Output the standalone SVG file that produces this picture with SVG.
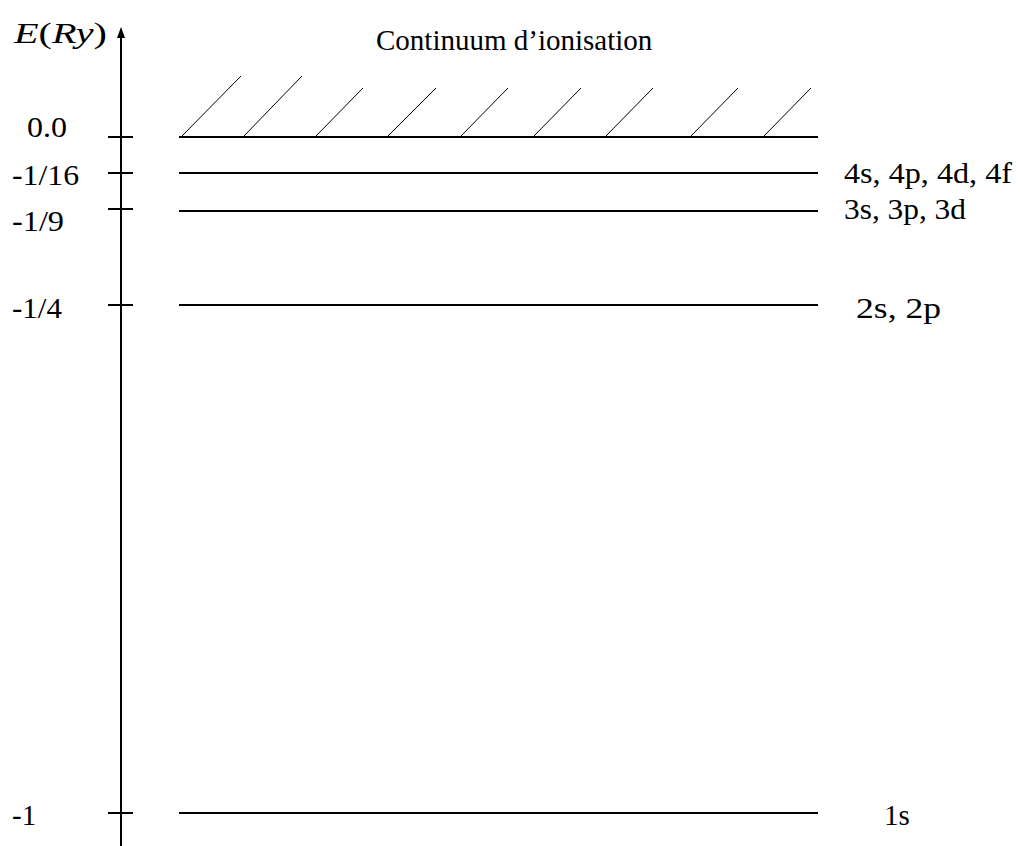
<svg xmlns="http://www.w3.org/2000/svg" width="1020" height="846" viewBox="0 0 1020 846">
<defs>
<style>
.lvl{stroke:#000;stroke-width:2;fill:none}
.tick{stroke:#000;stroke-width:2;fill:none}
.hatch{stroke:#000;stroke-width:1;fill:none}
</style>
</defs>
<rect width="1020" height="846" fill="#fff"/>
<g id="axis">
<line x1="121" y1="36" x2="121" y2="846" stroke="#000" stroke-width="2"/>
<polygon points="121,27 117,38 125,38" fill="#000"/>
<text x="14" y="43" font-family="Liberation Serif" font-size="30" textLength="93" lengthAdjust="spacingAndGlyphs"><tspan font-style="italic">E</tspan>(<tspan font-style="italic">Ry</tspan>)</text>
</g>
<g id="ticks">
<line class="tick" x1="108" y1="137" x2="133" y2="137"/>
<line class="tick" x1="108" y1="173" x2="133" y2="173"/>
<line class="tick" x1="108" y1="209" x2="133" y2="209"/>
<line class="tick" x1="108" y1="305" x2="133" y2="305"/>
<line class="tick" x1="108" y1="813" x2="133" y2="813"/>
</g>
<g id="axis-labels">
<text x="27" y="137" font-family="Liberation Serif" font-size="29" textLength="40" lengthAdjust="spacingAndGlyphs">0.0</text>
<text x="12" y="185" font-family="Liberation Serif" font-size="29" textLength="67" lengthAdjust="spacingAndGlyphs">-1/16</text>
<text x="12" y="231" font-family="Liberation Serif" font-size="29" textLength="52" lengthAdjust="spacingAndGlyphs">-1/9</text>
<text x="12" y="318" font-family="Liberation Serif" font-size="29" textLength="50" lengthAdjust="spacingAndGlyphs">-1/4</text>
<text x="12" y="825" font-family="Liberation Serif" font-size="29">-1</text>
</g>
<g id="continuum">
<line class="lvl" x1="179" y1="137" x2="818" y2="137"/>
<path class="hatch" d="M181,137L241,76M243,137L302,76M315,137L363,88M387,137L436,88M460,137L508,88M533,137L581,88M605,137L653,88M690,137L738,88M763,137L811,88"/>
<text x="376" y="50" font-family="Liberation Serif" font-size="29">Continuum d’ionisation</text>
</g>
<g id="n4">
<line class="lvl" x1="179" y1="173" x2="818" y2="173"/>
<text x="844" y="183" font-family="Liberation Serif" font-size="29" textLength="168" lengthAdjust="spacingAndGlyphs">4s, 4p, 4d, 4f</text>
</g>
<g id="n3">
<line class="lvl" x1="179" y1="211" x2="818" y2="211"/>
<text x="844" y="219" font-family="Liberation Serif" font-size="29" textLength="122" lengthAdjust="spacingAndGlyphs">3s, 3p, 3d</text>
</g>
<g id="n2">
<line class="lvl" x1="179" y1="305" x2="818" y2="305"/>
<text x="856" y="318" font-family="Liberation Serif" font-size="29" textLength="85" lengthAdjust="spacingAndGlyphs">2s, 2p</text>
</g>
<g id="n1">
<line class="lvl" x1="179" y1="813" x2="818" y2="813"/>
<text x="884" y="825" font-family="Liberation Serif" font-size="29">1s</text>
</g>
</svg>
